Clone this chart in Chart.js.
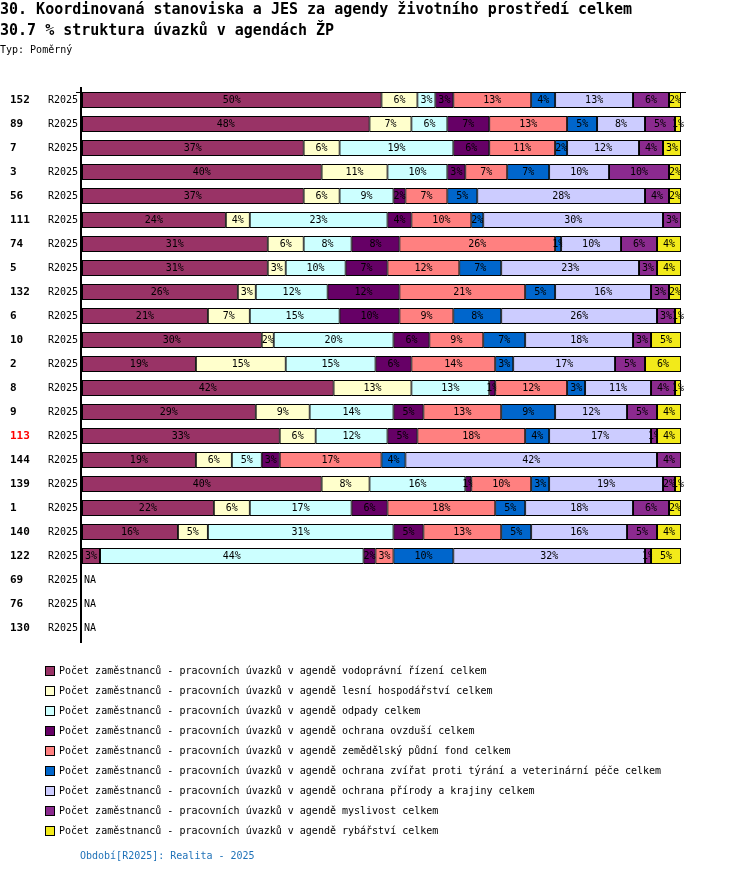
<!DOCTYPE html>
<html>
<head>
<meta charset="utf-8">
<script src="https://cdn.jsdelivr.net/npm/chart.js@4.4.1/dist/chart.umd.min.js"></script>
<style>
body { margin: 0; background: #fff; font-family: "DejaVu Sans Mono", monospace; }
#wrap { position: relative; width: 750px; height: 874px; overflow: hidden; }
#wrap canvas { position: absolute; left: 0; top: 0; }
.txt { position: absolute; left: 0; white-space: pre; color: #000; }
.t1 { top: 0; font-size: 15px; font-weight: bold; line-height: 18px; }
.t2 { top: 21px; font-size: 15px; font-weight: bold; line-height: 18px; }
.t3 { top: 44px; font-size: 10px; line-height: 12px; }
.leg { position: absolute; left: 45px; font-size: 10px; line-height: 12px; white-space: pre; }
.leg i { position: absolute; left: 0; top: 1px; width: 8px; height: 8px; border: 1px solid #000; }
.leg span { position: absolute; left: 14px; top: 0; }
.period { position: absolute; left: 80px; top: 850px; font-size: 10px; line-height: 12px; color: #1f72b8; white-space: pre; }
</style>
</head>
<body>
<div id="wrap">
  <canvas id="chart" width="750" height="874"></canvas>
  <div class="txt t1">30. Koordinovaná stanoviska a JES za agendy životního prostředí celkem</div>
  <div class="txt t2">30.7 % struktura úvazků v agendách ŽP</div>
  <div class="txt t3">Typ: Poměrný</div>
  <div id="legend"></div>
  <div class="period">Období[R2025]: Realita - 2025</div>
</div>
<script>
// rows (top to bottom)
const ids = ['152', '89', '7', '3', '56', '111', '74', '5', '132', '6', '10', '2', '8', '9', '113', '144', '139', '1', '140', '122', '69', '76', '130'];
const periods = ids.map(() => 'R2025');
const highlighted = ['113'];

// shares in % per agenda (null = NA)
const vodopravni = [50, 48, 37, 40, 37, 24, 31, 31, 26, 21, 30, 19, 42, 29, 33, 19, 40, 22, 16, 3, null, null, null];
const lesni      = [6, 7, 6, 11, 6, 4, 6, 3, 3, 7, 2, 15, 13, 9, 6, 6, 8, 6, 5, 0, null, null, null];
const odpady     = [3, 6, 19, 10, 9, 23, 8, 10, 12, 15, 20, 15, 13, 14, 12, 5, 16, 17, 31, 44, null, null, null];
const ovzdusi    = [3, 7, 6, 3, 2, 4, 8, 7, 12, 10, 6, 6, 1, 5, 5, 3, 1, 6, 5, 2, null, null, null];
const zpf        = [13, 13, 11, 7, 7, 10, 26, 12, 21, 9, 9, 14, 12, 13, 18, 17, 10, 18, 13, 3, null, null, null];
const zvirata    = [4, 5, 2, 7, 5, 2, 1, 7, 5, 8, 7, 3, 3, 9, 4, 4, 3, 5, 5, 10, null, null, null];
const priroda    = [13, 8, 12, 10, 28, 30, 10, 23, 16, 26, 18, 17, 11, 12, 17, 42, 19, 18, 16, 32, null, null, null];
const myslivost  = [6, 5, 4, 10, 4, 3, 6, 3, 3, 3, 3, 5, 4, 5, 1, 4, 2, 6, 5, 1, null, null, null];
const rybarstvi  = [2, 1, 3, 2, 2, 0, 4, 4, 2, 1, 5, 6, 1, 4, 4, 0, 1, 2, 4, 5, null, null, null];

const prefix = 'Počet zaměstnanců - pracovních úvazků v agendě ';
const seriesNames = ['vodoprávní řízení celkem', 'lesní hospodářství celkem', 'odpady celkem',
  'ochrana ovzduší celkem', 'zemědělský půdní fond celkem',
  'ochrana zvířat proti týrání a veterinární péče celkem', 'ochrana přírody a krajiny celkem',
  'myslivost celkem', 'rybářství celkem'];
const seriesData = [vodopravni, lesni, odpady, ovzdusi, zpf, zvirata, priroda, myslivost, rybarstvi];
const colors = ['#993366', '#FFFFCC', '#CCFFFF', '#660066', '#FF8080', '#0066CC', '#CCCCFF', '#8B2A8F', '#F2EA1A'];

// legend
const legend = document.getElementById('legend');
seriesNames.forEach((name, i) => {
    const d = document.createElement('div');
    d.className = 'leg';
    d.style.top = (665 + i * 20) + 'px';
    d.innerHTML = '<i style="background:' + colors[i] + '"></i><span></span>';
    d.querySelector('span').textContent = prefix + name;
    legend.appendChild(d);
});

const rowsPlugin = {
    id: 'rowsPlugin',
    afterDatasetsDraw(chart) {
        const ctx = chart.ctx;
        const area = chart.chartArea;
        const yScale = chart.scales.y;
        ctx.save();
        // redraw left to right so each label is covered by the next segment
        chart.data.datasets.forEach((ds, i) => {
            chart.getDatasetMeta(i).data.forEach((bar, j) => {
                const v = ds.data[j];
                if (!v) return;
                bar.draw(ctx, area);
                ctx.fillStyle = '#000';
                ctx.font = '10px "DejaVu Sans Mono"';
                ctx.textAlign = 'center';
                ctx.textBaseline = 'middle';
                ctx.fillText(v + '%', (bar.x + bar.base) / 2, bar.y + 0.5);
            });
        });
        // axis lines
        const first = chart.getDatasetMeta(0).data[0];
        const topY = Math.round(first.y - first.height / 2) + 0.5;
        ctx.strokeStyle = '#000';
        ctx.lineWidth = 1;
        ctx.beginPath();
        ctx.moveTo(area.left - 6, topY);
        ctx.lineTo(area.right + 5, topY);
        ctx.stroke();
        ctx.lineWidth = 2;
        ctx.beginPath();
        ctx.moveTo(area.left - 1, area.top - 1);
        ctx.lineTo(area.left - 1, area.bottom + 3);
        ctx.stroke();
        // row labels
        ctx.textBaseline = 'middle';
        ids.forEach((id, j) => {
            const py = yScale.getPixelForValue(j) + 0.5;
            ctx.font = 'bold 11px "DejaVu Sans Mono"';
            ctx.textAlign = 'left';
            ctx.fillStyle = highlighted.includes(id) ? '#FF0000' : '#000';
            ctx.fillText(id, 10, py);
            ctx.font = '10px "DejaVu Sans Mono"';
            ctx.fillStyle = '#000';
            ctx.textAlign = 'right';
            ctx.fillText(periods[j], 78, py);
            if (vodopravni[j] === null) {
                ctx.textAlign = 'left';
                ctx.fillText('NA', area.left + 2, py);
            }
        });
        ctx.restore();
    }
};

new Chart(document.getElementById('chart').getContext('2d'), {
    type: 'bar',
    data: {
        labels: ids,
        datasets: seriesData.map((values, i) => ({
            label: prefix + seriesNames[i],
            data: values,
            backgroundColor: colors[i],
            borderColor: '#000',
            borderWidth: 1,
            borderSkipped: false,
            barPercentage: 0.67,
            categoryPercentage: 1,
        })),
    },
    options: {
        indexAxis: 'y',
        responsive: false,
        devicePixelRatio: 1,
        animation: false,
        events: [],
        layout: { padding: { left: 82, right: 69, top: 88, bottom: 234 } },
        scales: {
            x: { stacked: true, min: 0, max: 100, display: false },
            y: { stacked: true, display: false },
        },
        plugins: {
            legend: { display: false },
            tooltip: { enabled: false },
        },
    },
    plugins: [rowsPlugin],
});
</script>
</body>
</html>
